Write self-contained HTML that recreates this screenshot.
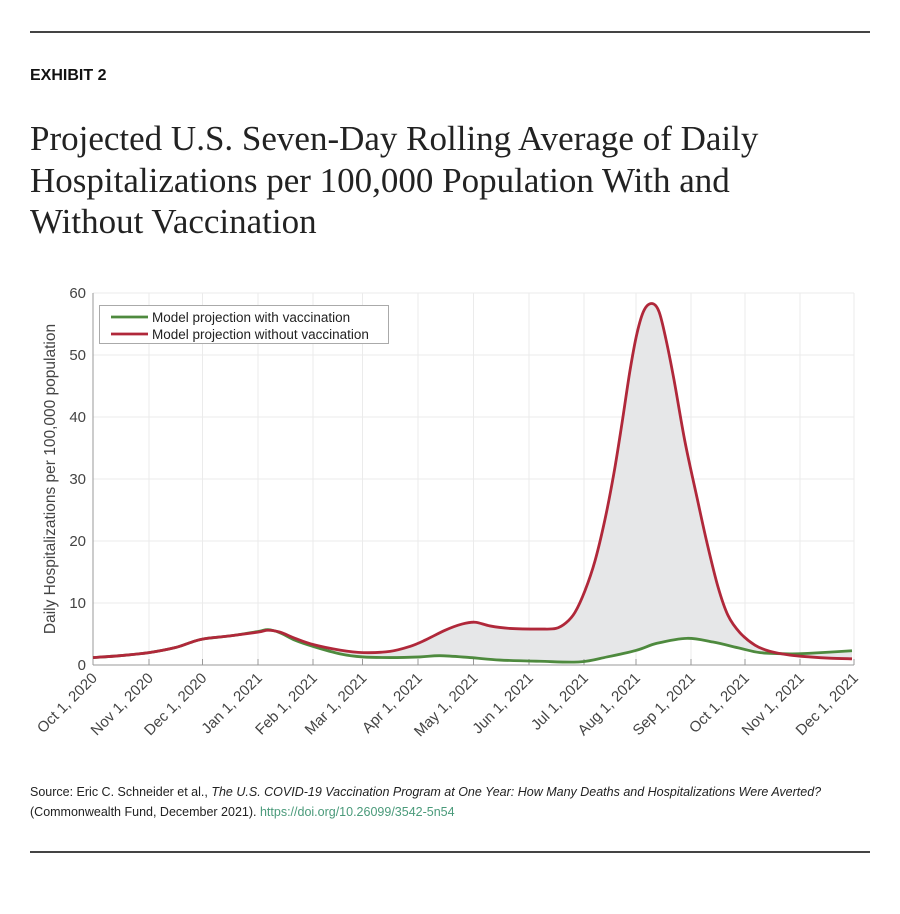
<!DOCTYPE html>
<html><head><meta charset="utf-8"><style>
body{margin:0;background:#fff;width:900px;height:914px;overflow:hidden;position:relative;font-family:"Liberation Sans",sans-serif}
.rule{position:absolute;left:30px;width:840px;height:1.5px;background:#444}
</style></head><body>
<div class="rule" style="top:31px"></div>
<div style="position:absolute;left:30px;top:67px;font-weight:bold;font-size:16px;color:#111">EXHIBIT 2</div>
<div style="position:absolute;left:30px;top:118px;font-family:'Liberation Serif',serif;font-size:35px;line-height:41.5px;color:#222;width:790px">Projected U.S. Seven-Day Rolling Average of Daily Hospitalizations per 100,000 Population With and Without Vaccination</div>
<svg style="position:absolute;left:0;top:0" width="900" height="914" id="s" font-family="Liberation Sans, sans-serif"></svg>
<div style="position:absolute;left:30px;top:782px;font-size:12.5px;line-height:20px;color:#222">Source: Eric C. Schneider et al., <i>The U.S. COVID-19 Vaccination Program at One Year: How Many Deaths and Hospitalizations Were Averted?</i><br>(Commonwealth Fund, December 2021). <span style="color:#4a9a7a">https://doi.org/10.26099/3542-5n54</span></div>
<div class="rule" style="top:851px"></div>
<script>
const s=document.getElementById('s');let h='';
const Y=v=>665-6.2*v;
const xt=[93,149,202.5,258,313,362.5,418,473.5,529,584,636,691,745,800,854];
const lab=['Oct 1, 2020','Nov 1, 2020','Dec 1, 2020','Jan 1, 2021','Feb 1, 2021','Mar 1, 2021','Apr 1, 2021','May 1, 2021','Jun 1, 2021','Jul 1, 2021','Aug 1, 2021','Sep 1, 2021','Oct 1, 2021','Nov 1, 2021','Dec 1, 2021'];
for(const x of xt)h+=`<line x1="${x}" y1="293" x2="${x}" y2="665" stroke="#ebebeb"/>`;
for(let v=0;v<=60;v+=10){h+=`<line x1="93" y1="${Y(v)}" x2="854" y2="${Y(v)}" stroke="#ebebeb"/><text x="86" y="${Y(v)+5}" text-anchor="end" font-size="15" fill="#444">${v}</text>`;}
const R=[[93,1.2],[120,1.5],[149,2.0],[175,2.8],[190,3.6],[203,4.2],[230,4.7],[258,5.3],[268,5.6],[280,5.3],[295,4.3],[313,3.3],[340,2.4],[363,2.0],[390,2.2],[410,3.0],[425,4.0],[445,5.6],[462,6.6],[475,6.9],[490,6.3],[510,5.9],[540,5.8],[556,5.9],[566,6.8],[575,8.5],[585,12],[595,16.8],[605,23.5],[614,31],[622,39],[630,47.5],[637,53.5],[644,57.2],[652,58.3],[659,57],[666,52.5],[674,46],[685,36],[697,27],[707,19.7],[718,12.6],[728,8],[740,5.2],[755,3.2],[770,2.2],[790,1.6],[810,1.3],[830,1.1],[852,1.0]];
const G=[[93,1.2],[120,1.5],[149,2.0],[175,2.8],[190,3.6],[203,4.2],[230,4.7],[258,5.4],[268,5.7],[280,5.2],[295,4.0],[313,3.0],[340,1.8],[363,1.3],[390,1.2],[420,1.3],[440,1.5],[470,1.2],[500,0.8],[540,0.6],[580,0.5],[607,1.3],[637,2.4],[657,3.5],[687,4.3],[713,3.7],[740,2.7],[760,2.0],[790,1.8],[810,1.9],[852,2.3]];
function path(P){P=P.map(p=>[p[0],Y(p[1])]);let d=`M${P[0][0]},${P[0][1]}`;for(let i=0;i<P.length-1;i++){const p0=P[i-1]||P[i],p1=P[i],p2=P[i+1],p3=P[i+2]||p2;d+=` C${p1[0]+(p2[0]-p0[0])/6},${p1[1]+(p2[1]-p0[1])/6} ${p2[0]-(p3[0]-p1[0])/6},${p2[1]-(p3[1]-p1[1])/6} ${p2[0]},${p2[1]}`;}return d;}
const rp=path(R),gp=path(G);
h+=`<path d="${rp} L852,${Y(2.3)} ${[...G].reverse().map(p=>`L${p[0]},${Y(p[1])}`).join(' ')} Z" fill="#e6e7e8"/>`;
h+=`<line x1="93" y1="293" x2="93" y2="665" stroke="#999"/><line x1="93" y1="665" x2="854" y2="665" stroke="#999"/>`;
for(const x of xt)h+=`<line x1="${x}" y1="665" x2="${x}" y2="659" stroke="#999"/>`;
h+=`<path d="${gp}" fill="none" stroke="#4e8a3e" stroke-width="2.8"/><path d="${rp}" fill="none" stroke="#b0283a" stroke-width="2.8"/>`;
xt.forEach((x,i)=>{h+=`<text transform="translate(${x+5},${679}) rotate(-45)" text-anchor="end" font-size="15" fill="#444">${lab[i]}</text>`;});
h+=`<text transform="translate(55,479) rotate(-90)" text-anchor="middle" font-size="15.5" fill="#444">Daily Hospitalizations per 100,000 population</text>`;
h+=`<rect x="99.5" y="305.5" width="289" height="38" fill="#fff" stroke="#aaa"/><line x1="111" y1="317" x2="148" y2="317" stroke="#4e8a3e" stroke-width="2.8"/><line x1="111" y1="334" x2="148" y2="334" stroke="#b0283a" stroke-width="2.8"/><text x="152" y="322" font-size="13.5" fill="#222">Model projection with vaccination</text><text x="152" y="339" font-size="13.5" fill="#222">Model projection without vaccination</text>`;
s.innerHTML=h;
</script>
</body></html>
